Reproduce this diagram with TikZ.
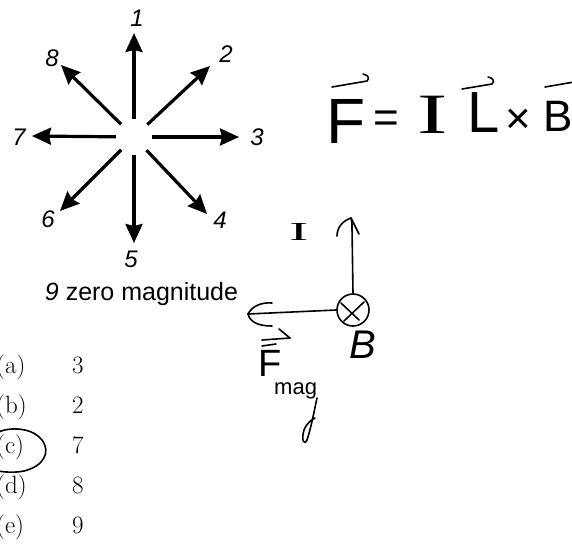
\documentclass[tikz,border=0pt]{standalone}
\usepackage{fontspec}
\usetikzlibrary{arrows.meta,calc}
\newfontfamily\hv{Liberation Sans}
\newfontfamily\hvserif{Liberation Serif}
\begin{document}
\begin{tikzpicture}[x=1pt,y=-1pt,
  vecarrow/.style={line width=3.2pt, -{Stealth[length=19pt,width=17pt,inset=2pt]}},
  lbl/.style={font=\hv\itshape\fontsize{24}{28}\selectfont, inner sep=0},
  opt/.style={font=\fontsize{25}{30}\selectfont, anchor=base west, inner sep=0},
  hand/.style={line width=1.6pt, line cap=round, line join=round},
  htext/.style={inner sep=0},
]
\useasboundingbox (0,0) rectangle (572,549);

% ---- star of directions ----
\node[circle, minimum size=36pt, inner sep=0] (c) at (134,137) {};
\coordinate (t1) at (134,33);
\coordinate (t2) at (210,66);
\coordinate (t3) at (239,137);
\coordinate (t4) at (207,214);
\coordinate (t5) at (134,243);
\coordinate (t6) at (60,211);
\coordinate (t7) at (32,136);
\coordinate (t8) at (61,65);
\foreach \i in {1,...,8} \draw[vecarrow] (c) -- (t\i);

\node[lbl] (l1) at (137,18) {1};
\node[lbl] (l2) at (226,54) {2};
\node[lbl] (l3) at (257,137) {3};
\node[lbl] (l4) at (220,220) {4};
\node[lbl] (l5) at (131,259) {5};
\node[lbl] (l6) at (48,219) {6};
\node[lbl] (l7) at (19,137) {7};
\node[lbl] (l8) at (52,58) {8};

\node[htext, font=\hv\fontsize{25}{30}\selectfont, anchor=base] (zero) at (141.5,300) {{\itshape 9} zero magnitude};

% ---- answer options ----
\node[opt] (oa) at (-4,373) {(a)}; \node[opt] (na) at (72,373) {3};
\node[opt] (ob) at (-4,413) {(b)}; \node[opt] (nb) at (72,413) {2};
\node[opt] (oc) at (-4,453) {(c)}; \node[opt] (nc) at (72,453) {7};
\node[opt] (od) at (-4,493) {(d)}; \node[opt] (nd) at (72,493) {8};
\node[opt] (oe) at (-4,533) {(e)}; \node[opt] (ne) at (72,533) {9};
% hand-drawn ring round (c)
\draw[hand] (-3,433) .. controls (4,428) and (30,425) .. (42,440)
  .. controls (51,452) and (44,466) .. (24,471) .. controls (14,473) and (4,472) .. (-2,471);

% ---- handwritten formula ----
\node[htext, font=\hv\fontsize{64}{70}\selectfont, anchor=base west] (F) at (326,143) {F};
\node[htext, font=\hv\fontsize{44}{48}\selectfont] (eq) at (386,122) {=};
\node[htext, font=\hvserif\fontsize{57}{60}\selectfont, anchor=base] (I) at (433,133) {\scalebox{1.6}[1]{I}};
\node[htext, font=\hv\fontsize{58}{62}\selectfont, anchor=base west] (L) at (467,132) {L};
\node[htext, font=\hv\fontsize{44}{48}\selectfont] (x) at (518,121) {×};
\node[htext, font=\hv\fontsize{44}{48}\selectfont, anchor=base] (B) at (558,131) {B};
\draw[hand] (332,87) -- (367,81) .. controls (370,78) and (368,75) .. (363,74);
\draw[hand] (462,89) -- (492,84) .. controls (495,81) and (493,78) .. (488,77);
\draw[hand] (545,87) -- (574,82);

% ---- handwritten force sketch ----
\node[circle, draw, line width=1.6pt, minimum size=32pt, inner sep=0] (o) at (353,310) {};
\draw[hand] (341,303) -- (359,320) (364,302) -- (344,321);
\draw[hand] (o.north) -- (352,228) .. controls (352,222) .. (351,218);
\draw[hand] (351,218) .. controls (342,221) and (337,228) .. (337,236);
\draw[hand] (351,218) -- (359,234);
\node[htext, font=\hvserif\fontsize{26}{30}\selectfont, anchor=base] (Ilab) at (299,240) {\scalebox{2.2}[1]{I}};

\coordinate (ftip) at (248,314);
\draw[hand] (o.west) -- (ftip);
\draw[hand] (ftip) .. controls (252,306) and (262,302) .. (272,303);
\draw[hand] (ftip) .. controls (250,322) and (258,326) .. (272,326);

\node[htext, font=\hv\itshape\fontsize{40}{44}\selectfont, anchor=base] (Blab) at (363,358) {B};

\draw[hand] (262,340) -- (290,338);
\draw[hand] (279,329) -- (290,338);
\draw[hand] (262,346) -- (276,344);
\node[htext, font=\hv\fontsize{38}{42}\selectfont, anchor=base west] (Fm) at (258,376) {F};
\node[htext, font=\hv\fontsize{22}{26}\selectfont, anchor=base west] (mag) at (274,394) {mag};
\draw[hand] (317,398) .. controls (314,412) and (311,428) .. (307,440)
  .. controls (304,446) and (301,440) .. (304,430) .. controls (307,423) and (311,420) .. (315,418);
\end{tikzpicture}
\end{document}
